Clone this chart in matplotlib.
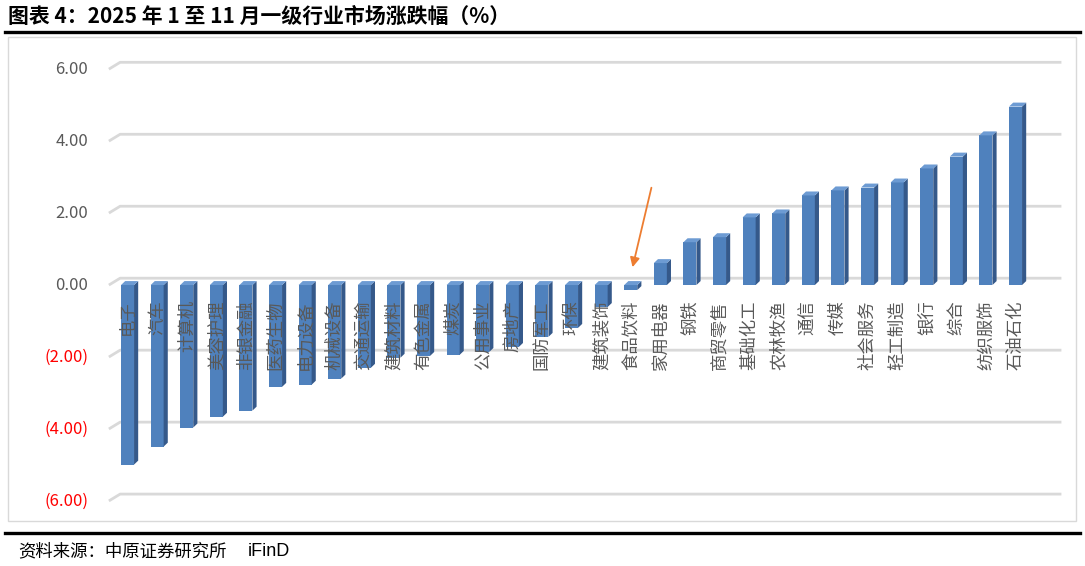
import matplotlib
matplotlib.use("Agg")
import matplotlib.pyplot as plt
from matplotlib.patches import Polygon, Rectangle
from matplotlib.lines import Line2D

plt.rcParams['font.family'] = ['Noto Sans CJK SC', 'DejaVu Sans']

# data
industries = ["电子", "汽车", "计算机", "美容护理", "非银金融", "医药生物", "电力设备",
              "机械设备", "交通运输", "建筑材料", "有色金属", "煤炭", "公用事业", "房地产",
              "国防军工", "环保", "建筑装饰", "食品饮料", "家用电器", "钢铁", "商贸零售",
              "基础化工", "农林牧渔", "通信", "传媒", "社会服务", "轻工制造", "银行",
              "综合", "纺织服饰", "石油石化"]
changes = [-4.99, -4.49, -3.96, -3.66, -3.49, -2.83, -2.77,
           -2.60, -2.30, -2.02, -1.97, -1.94, -1.86, -1.72,
           -1.44, -1.19, -0.61, -0.14, 0.61, 1.19, 1.33,
           1.88, 1.99, 2.49, 2.63, 2.71, 2.85, 3.24,
           3.57, 4.16, 4.96]
yticks = [6, 4, 2, 0, -2, -4, -6]
ytick_labels = ["6.00", "4.00", "2.00", "0.00", "(2.00)", "(4.00)", "(6.00)"]

W, H = 1085, 566
fig = plt.figure(figsize=(W / 100, H / 100), dpi=100)
ax = fig.add_axes([100 / W, 1 - 520 / H, 970 / W, 480 / H])
ax.set_xlim(-0.93, 31.84)
ax.set_ylim(-6.53, 6.81)
ax.axis("off")

front = "#4f81bd"
side = "#35598a"
top = "#6d9bd3"
bw = 0.44
dx, dy = 0.14, 0.11

# 3d-ish gridlines
for v in yticks:
    ax.plot([-0.63, -0.25, 31.55], [v, v + 0.19, v + 0.19], color="#d9d9d9", lw=2.0, zorder=1,
            solid_capstyle="butt")

x = list(range(len(industries)))
ax.bar(x, changes, width=bw, color=front, zorder=3, linewidth=0)
for i, v in enumerate(changes):
    r = i + bw / 2
    l = i - bw / 2
    ax.add_patch(Polygon([(r, 0), (r + dx, dy), (r + dx, v + dy), (r, v)],
                         closed=True, color=side, lw=0, zorder=3))
    t = max(v, 0)
    ax.add_patch(Polygon([(l, t), (r, t), (r + dx, t + dy), (l + dx, t + dy)],
                         closed=True, color=top, lw=0, zorder=3))
    ax.text(i, -0.42, industries[i], rotation=90, ha="center", va="top",
            fontsize=12.5, color="#595959", zorder=4)

# y labels
for v, s in zip(yticks, ytick_labels):
    ax.text(-1.33, v, s, ha="right", va="center", fontsize=12,
            color="#ff0000" if v < 0 else "#595959", clip_on=False)

# arrow
ax.annotate("", xy=(17.04, 0.42), xytext=(17.72, 2.78),
            arrowprops=dict(arrowstyle="-|>", color="#ed7d31", lw=1.3, mutation_scale=14))

# frame and rules
fig.patches.append(Rectangle((8 / W, 1 - 521 / H), 1068 / W, 484 / H, transform=fig.transFigure,
                             fill=False, edgecolor="#d9d9d9", lw=1))
fig.add_artist(Line2D([5 / W, 1080 / W], [1 - 32 / H, 1 - 32 / H], color="black", lw=2.4))
fig.add_artist(Line2D([5 / W, 1080 / W], [1 - 533 / H, 1 - 533 / H], color="black", lw=2.4))

fig.text(8 / W, 1 - 16 / H, "图表 4：2025 年 1 至 11 月一级行业市场涨跌幅（%）", fontsize=15,
         fontweight="bold", ha="left", va="center", color="black")
fig.text(18 / W, 1 - 551 / H, "资料来源：中原证券研究所", fontsize=12.5, ha="left", va="center",
         color="black")
fig.text(248 / W, 1 - 551 / H, "iFinD", fontsize=13, ha="left", va="center",
         color="black", family="Liberation Sans")

fig.savefig("out.png", dpi=100)
